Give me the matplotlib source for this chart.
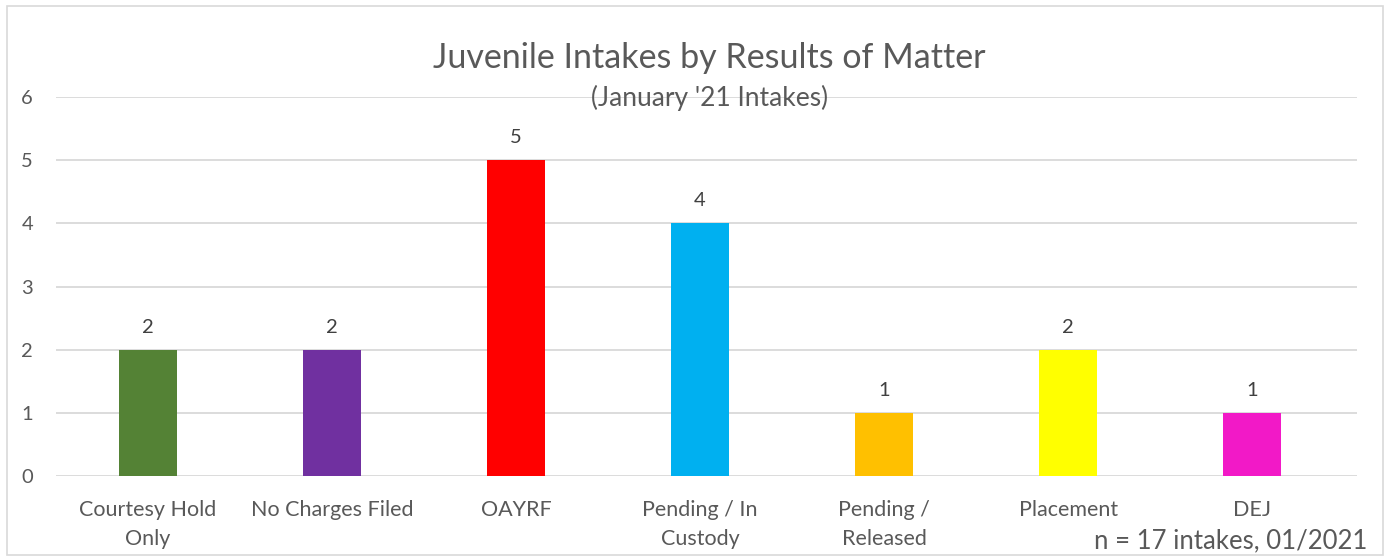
import matplotlib
matplotlib.use("Agg")
import matplotlib.pyplot as plt
from matplotlib.patches import Rectangle

categories = ["Courtesy Hold\nOnly", "No Charges Filed", "OAYRF", "Pending / In\nCustody",
              "Pending /\nReleased", "Placement", "DEJ"]
values = [2, 2, 5, 4, 1, 2, 1]
colors = ["#548235", "#7030A0", "#FF0000", "#00B0F0", "#FFC000", "#FFFF00", "#F219C7"]
yticks = [0, 1, 2, 3, 4, 5, 6]
title = "Juvenile Intakes by Results of Matter"
subtitle = "(January '21 Intakes)"
note = "n = 17 intakes, 01/2021"

plt.rcParams['font.family'] = ['Lato', 'DejaVu Sans']
txt = "#595959"
W, H = 1386, 557

fig = plt.figure(figsize=(13.86, 5.57), dpi=100)
ax = fig.add_axes([56/W, 81/H, 1301/W, 379/H])
x = list(range(len(categories)))
ax.bar(x, values, width=0.315, color=colors, zorder=3)
ax.set_xlim(-0.5, len(categories) - 0.43)
ax.set_ylim(0, 6)
ax.set_yticks(yticks)
ax.yaxis.grid(True, color="#D9D9D9", linewidth=1.3, zorder=0)
ax.set_axisbelow(True)
for s in ax.spines.values():
    s.set_visible(False)
ax.tick_params(axis='both', length=0, colors=txt)
ax.tick_params(axis='y', pad=16.5, labelsize=14.5)
ax.set_xticks(x)
ax.set_xticklabels(categories, linespacing=1.55, fontsize=15.5)
ax.tick_params(axis='x', pad=17.5)
for xi, v in zip(x, values):
    ax.annotate(str(v), (xi, v), xytext=(0, 12.2), textcoords='offset points',
                ha='center', va='baseline', fontsize=14.5, color="#404040")

fig.text(709/W, 1 - 68/H, title, ha='center', va='baseline', fontsize=24.5, color=txt)
fig.text(710/W, 1 - 106/H, subtitle, ha='center', va='baseline', fontsize=19, color=txt)
fig.text(1367/W, 1 - 548/H, note, ha='right', va='baseline', fontsize=18.5, color=txt)

fig.patches.append(Rectangle((7/W, 2/H), 1376/W, 549/H, transform=fig.transFigure,
                             fill=False, edgecolor="#D9D9D9", linewidth=1.2))
fig.savefig("out.png", dpi=100)
